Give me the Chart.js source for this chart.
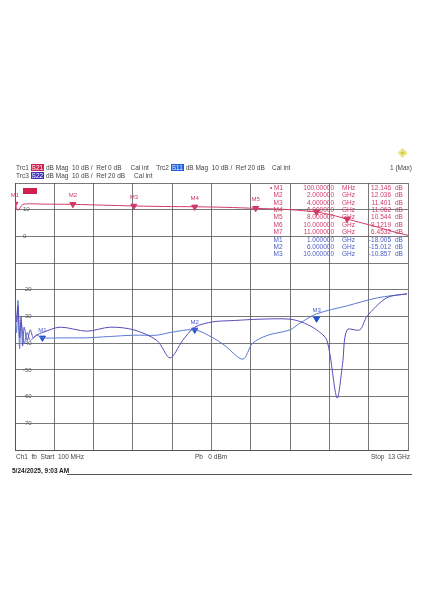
<!DOCTYPE html>
<html><head><meta charset="utf-8">
<script src="https://cdn.jsdelivr.net/npm/chart.js@4"></script>
<style>
body{margin:0;background:#fff;font-family:"Liberation Sans",Arial,sans-serif;}
#wrap{position:relative;width:424px;height:600px;}
.t{position:absolute;font-size:6.5px;color:#444;white-space:nowrap;}
.b{color:#fff;padding:0 1px;}
</style></head><body>
<div id="wrap">
<canvas id="c" width="424" height="600"></canvas>
<div class="t" style="left:16px;top:164px">Trc1 <span class="b" style="background:#d02050">S21</span> dB Mag &nbsp;10 dB / &nbsp;Ref 0 dB &nbsp;&nbsp;&nbsp;&nbsp;Cal int &nbsp;&nbsp;&nbsp;Trc2 <span class="b" style="background:#2060e0">S11</span> dB Mag &nbsp;10 dB / &nbsp;Ref 20 dB &nbsp;&nbsp;&nbsp;Cal int</div>
<div class="t" style="left:16px;top:172px">Trc3 <span class="b" style="background:#4030c0">S22</span> dB Mag &nbsp;10 dB / &nbsp;Ref 20 dB &nbsp;&nbsp;&nbsp;&nbsp;Cal int</div>
<div class="t" style="left:390px;top:164px">1 (Max)</div>
<div class="t" style="left:398px;top:145px;color:#d8d040;font-size:12px">◈</div>
<div class="t" style="left:16px;top:453px">Ch1 &nbsp;fb &nbsp;Start &nbsp;100 MHz</div>
<div class="t" style="left:195px;top:453px">Pb &nbsp;&nbsp;0 dBm</div>
<div class="t" style="left:371px;top:453px">Stop &nbsp;13 GHz</div>
<div class="t" style="left:12px;top:467px;font-weight:bold;color:#222">5/24/2025, 9:03 AM</div>
<div style="position:absolute;left:67px;top:474px;width:345px;border-top:1px solid #555"></div>
</div>
<script>
// frequency in GHz
const s21Freq = [0.1, 0.2, 0.35, 0.6, 1, 2, 3, 4, 5, 6, 7, 8, 9, 9.5, 10, 10.5, 11, 11.5, 12, 12.5, 13];
const s21Vals = [12.1, 9.8, 11.9, 12.2, 12.1, 12.0, 11.7, 11.4, 11.2, 11.1, 10.9, 10.5, 10.1, 9.7, 9.1, 8.0, 6.5, 5.0, 3.5, 1.8, 0.4];

// S11 / S22 in their own dB (Ref 20 dB)
const s11Freq = [0.1, 0.15, 0.2, 0.25, 0.3, 0.35, 0.4, 0.5, 0.6, 0.7, 0.8, 1.0, 1.58, 2.46, 3.22, 4.0, 4.76, 5.19, 5.6, 6.0, 6.6, 7.3, 8.14, 9.13, 9.6, 10.0, 10.34, 10.67, 10.85, 11.0, 11.42, 11.65, 12.3, 12.97];
const s11Vals = [-2, -12, -6, -18, -10, -21, -14, -19, -15, -18, -17, -16, -14, -15.5, -14, -15, -19, -25.5, -19, -14, -12, -11.5, -11, -11, -12.5, -15, -19, -40.5, -28, -15, -15, -10, -3, -1.5];
const s22Freq = [0.1, 0.15, 0.2, 0.25, 0.3, 0.4, 0.5, 0.6, 0.8, 1.0, 1.6, 2.4, 3.2, 4.0, 4.76, 5.19, 6.0, 6.6, 7.0, 7.58, 7.9, 8.4, 9.13, 9.45, 10.0, 11.0, 12.0, 12.97];
const s22Vals = [-8, -16, -4, -22, -12, -20, -16, -19, -17, -18, -18, -18, -17.5, -17, -17, -16, -15, -18, -21, -26, -20, -17, -15, -12.5, -9, -6, -3, -1.5];

const s21MarkF = [0.1, 2, 4, 6, 8, 10, 11];
const s21MarkV = [12.146, 12.036, 11.401, 11.062, 10.544, 9.121, 6.4532];
const s22MarkF = [1, 6, 10];
const s22MarkV = [-18.005, -15.012, -10.857];

const tableRows = [
  ["M1", "100.00000", "MHz", "12.146"], ["M2", "2.000000", "GHz", "12.036"],
  ["M3", "4.000000", "GHz", "11.401"], ["M4", "6.000000", "GHz", "11.062"],
  ["M5", "8.000000", "GHz", "10.544"], ["M6", "10.000000", "GHz", "9.1219"],
  ["M7", "11.000000", "GHz", "6.4532"], ["M1", "1.000000", "GHz", "-18.005"],
  ["M2", "6.000000", "GHz", "-15.012"], ["M3", "10.000000", "GHz", "-10.857"]
];
const yLabels = [10, 0, -20, -30, -40, -50, -60, -70];

const RED = "#d03a66", BLUE = "#4a5cc8";
const pts = (f, v) => f.map((x, i) => ({x: x, y: v[i]}));

const overlay = {
  id: "overlay",
  afterDatasetsDraw(chart) {
    const ctx = chart.ctx, x = chart.scales.x, y = chart.scales.y, y2 = chart.scales.y2;
    ctx.save();
    ctx.font = "6px 'Liberation Sans'";
    ctx.fillStyle = "#555";
    ctx.textBaseline = "middle";
    yLabels.forEach(v => ctx.fillText(String(v), x.left + 8, y.getPixelForValue(v)));
    // marker labels
    ctx.textAlign = "center";
    ctx.fillStyle = RED;
    s21MarkF.slice(0, 5).forEach((f, i) => {
      ctx.fillText("M" + (i + 1), x.getPixelForValue(f), y.getPixelForValue(s21MarkV[i]) - 9);
    });
    ctx.fillStyle = "#d02050";
    ctx.fillRect(x.left + 8, chart.chartArea.top + 5, 14, 6);
    ctx.fillStyle = BLUE;
    s22MarkF.forEach((f, i) => {
      ctx.fillText("M" + (i + 1), x.getPixelForValue(f), y2.getPixelForValue(s22MarkV[i]) - 8);
    });
    // marker table
    ctx.font = "6.5px 'Liberation Sans'";
    tableRows.forEach((r, i) => {
      const ty = chart.chartArea.top + 5 + i * 7.4;
      ctx.fillStyle = i < 7 ? RED : BLUE;
      ctx.textAlign = "left";
      ctx.fillText((i === 0 ? "• " : "  ") + r[0], 270, ty);
      ctx.fillText(r[2], 342, ty);
      ctx.fillText("dB", 395, ty);
      ctx.textAlign = "right";
      ctx.fillText(r[1], 334, ty);
      ctx.fillText(r[3], 391, ty);
    });
    ctx.restore();
  }
};

new Chart(document.getElementById("c"), {
  type: "line",
  data: {
    datasets: [
      {data: pts(s21Freq, s21Vals), borderColor: RED, borderWidth: 1, pointRadius: 0, tension: 0.3, yAxisID: "y"},
      {data: pts(s11Freq, s11Vals), borderColor: "#5a4cb8", borderWidth: 1, pointRadius: 0, tension: 0.3, yAxisID: "y2"},
      {data: pts(s22Freq, s22Vals), borderColor: "#5a7ad0", borderWidth: 1, pointRadius: 0, tension: 0.3, yAxisID: "y2"},
      {data: pts(s21MarkF, s21MarkV), showLine: false, pointStyle: "triangle", rotation: 180, pointRadius: 3.5, backgroundColor: RED, borderColor: RED, yAxisID: "y"},
      {data: pts(s22MarkF, s22MarkV), showLine: false, pointStyle: "triangle", rotation: 180, pointRadius: 3.5, backgroundColor: "#2050d0", borderColor: "#2050d0", yAxisID: "y2"}
    ]
  },
  options: {
    responsive: false,
    animation: false,
    layout: {padding: {left: 15, right: 16, top: 183, bottom: 150}},
    plugins: {legend: {display: false}, tooltip: {enabled: false}},
    scales: {
      x: {
        type: "linear", min: 0.1, max: 13,
        afterBuildTicks: s => { s.ticks = Array.from({length: 11}, (_, i) => ({value: 0.1 + i * 1.29})); },
        ticks: {display: false},
        grid: {color: "#555", lineWidth: 0.8, drawTicks: false},
        border: {color: "#555"}
      },
      y: {
        min: -80, max: 20,
        ticks: {display: false, stepSize: 10},
        grid: {color: "#555", lineWidth: 0.8, drawTicks: false},
        border: {color: "#555"}
      },
      y2: {min: -60, max: 40, display: false}
    }
  },
  plugins: [overlay]
});
</script>
</body></html>
